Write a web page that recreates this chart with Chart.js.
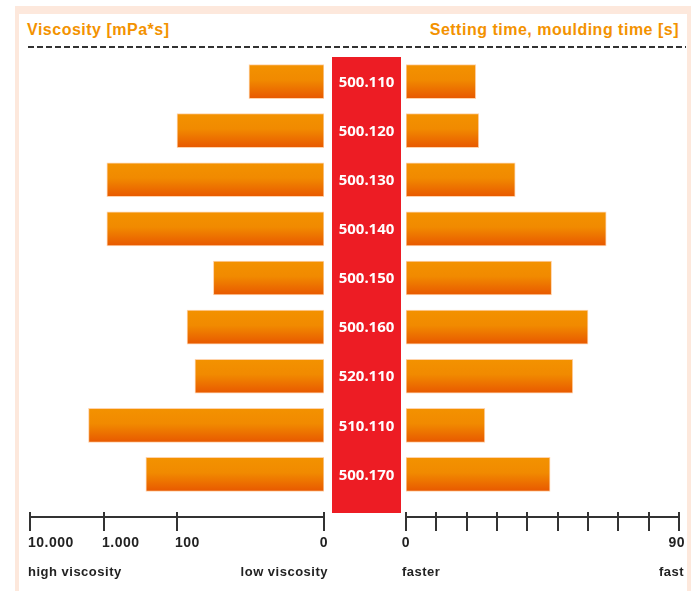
<!DOCTYPE html>
<html>
<head>
<meta charset="utf-8">
<script src="https://cdn.jsdelivr.net/npm/chart.js@4/dist/chart.umd.min.js"></script>
<style>
  body { margin: 0; background: #fff; width: 691px; height: 591px; overflow: hidden; position: relative; font-family: "Liberation Sans", Arial, sans-serif; }
  .frame { position: absolute; left: 15px; top: 6px; width: 668px; height: 600px; border-left: 4px solid #fde8dc; border-right: 4px solid #fde8dc; border-top: 8px solid #fde8dc; }
  .head { position: absolute; top: 21px; font: bold 16px "Liberation Sans", Arial, sans-serif; letter-spacing: 0.5px; color: #f39200; white-space: nowrap; }
  .dash { position: absolute; left: 28px; top: 46px; width: 658px; height: 2px; background: repeating-linear-gradient(to right, #333 0 6px, transparent 6px 9px); }
  canvas { position: absolute; top: 0; }
</style>
</head>
<body>
<div class="frame"></div>
<div class="head" style="left:27px">Viscosity [mPa*s]</div>
<div class="head" style="right:12px">Setting time, moulding time [s]</div>
<div class="dash"></div>
<canvas id="left" width="332" height="591" style="left:0"></canvas>
<canvas id="right" width="359" height="591" style="left:332px"></canvas>
<script>
// data
const products = ['500.110', '500.120', '500.130', '500.140', '500.150', '500.160', '520.110', '510.110', '500.170']
const viscosity = [10.5, 100, 900, 900, 32, 73, 57, 1600, 265]        // mPa*s
const settingTime = [23, 24, 36, 66, 48, 60, 55, 26, 47.5]            // s

const viscTicks = [10000, 1000, 100, 1]
const viscTickLabels = ['10.000', '1.000', '100', '0']
const timeTicks = [0, 10, 20, 30, 40, 50, 60, 70, 80, 90]
const timeTickLabels = ['0', '', '', '', '', '', '', '', '', '90']

const barTop = '#f39200'
const barBottom = '#e85800'
const axisY = 517

const gradientFill = (c) => {
  const chart = c.chart
  if (!chart.chartArea || c.dataIndex == null) return barTop
  const yc = chart.scales.y.getPixelForValue(c.dataIndex)
  const g = chart.ctx.createLinearGradient(0, yc - 17, 0, yc + 17)
  g.addColorStop(0, barTop)
  g.addColorStop(0.45, '#f18a00')
  g.addColorStop(1, barBottom)
  return g
}

// draws the bottom axis with crossing ticks and labels
const axisPlugin = (ticks, labels, aligns, captions) => ({
  id: 'bottomAxis',
  afterDraw(chart) {
    const ctx = chart.ctx
    const x = chart.scales.x
    ctx.save()
    ctx.strokeStyle = '#333'
    ctx.lineWidth = 2
    ctx.beginPath()
    ctx.moveTo(x.getPixelForValue(ticks[0]), axisY)
    ctx.lineTo(x.getPixelForValue(ticks[ticks.length - 1]), axisY)
    ctx.stroke()
    ctx.font = 'bold 14px "Liberation Sans", Arial, sans-serif'
    ctx.letterSpacing = '0.5px'
    ctx.textBaseline = 'middle'
    ctx.fillStyle = '#222'
    ticks.forEach((t, i) => {
      const px = Math.round(x.getPixelForValue(t))
      ctx.beginPath()
      ctx.moveTo(px, axisY - 5)
      ctx.lineTo(px, axisY + 14)
      ctx.stroke()
      if (labels[i]) {
        ctx.textAlign = aligns[i]
        const off = aligns[i] === 'left' ? -2 : aligns[i] === 'right' ? 6 : 0
        ctx.fillText(labels[i], px + off, 543)
      }
    })
    ctx.font = 'bold 13px "Liberation Sans", Arial, sans-serif'
    captions.forEach(cap => {
      ctx.textAlign = cap.align
      ctx.fillText(cap.text, x.getPixelForValue(cap.at) + cap.dx, 572)
    })
    ctx.restore()
  }
})

// red center band with product names
const centerPlugin = {
  id: 'centerBand',
  beforeDatasetsDraw(chart) {
    const ctx = chart.ctx
    ctx.save()
    ctx.fillStyle = '#ed1c24'
    ctx.fillRect(0, 57, 69, 456)
    ctx.restore()
  },
  afterDatasetsDraw(chart) {
    const ctx = chart.ctx
    const y = chart.scales.y
    ctx.save()
    ctx.fillStyle = '#fff'
    ctx.font = 'bold 15px "Noto Sans", "Open Sans", sans-serif'
    ctx.textAlign = 'center'
    ctx.textBaseline = 'middle'
    products.forEach((p, i) => ctx.fillText(p, 34.5, y.getPixelForValue(i) + 1))
    ctx.restore()
  }
}

const baseOptions = (padding) => ({
  responsive: false,
  animation: false,
  indexAxis: 'y',
  layout: { padding },
  plugins: { legend: { display: false }, tooltip: { enabled: false } },
  events: []
})

const leftOpts = baseOptions({ left: 30, right: 8, top: 57, bottom: 92 })
leftOpts.scales = {
  x: { type: 'logarithmic', min: 1, max: 10000, reverse: true, display: false },
  y: { type: 'category', display: false }
}
new Chart(document.getElementById('left'), {
  type: 'bar',
  data: {
    labels: products,
    datasets: [{
      data: viscosity.map(v => [1, v]),
      backgroundColor: gradientFill,
      borderColor: 'rgba(255,200,150,0.8)',
      borderWidth: 1,
      borderSkipped: false,
      barThickness: 34
    }]
  },
  options: leftOpts,
  plugins: [axisPlugin(viscTicks, viscTickLabels, ['left', 'left', 'left', 'center'], [
    { text: 'high viscosity', at: 10000, dx: -2, align: 'left' },
    { text: 'low viscosity', at: 1, dx: 4, align: 'right' }
  ])]
})

const rightOpts = baseOptions({ left: 74, right: 12, top: 57, bottom: 92 })
rightOpts.scales = {
  x: { type: 'linear', min: 0, max: 90, display: false },
  y: { type: 'category', display: false }
}
new Chart(document.getElementById('right'), {
  type: 'bar',
  data: {
    labels: products,
    datasets: [{
      data: settingTime,
      backgroundColor: gradientFill,
      borderColor: 'rgba(255,200,150,0.8)',
      borderWidth: 1,
      borderSkipped: false,
      barThickness: 34
    }]
  },
  options: rightOpts,
  plugins: [centerPlugin, axisPlugin(timeTicks, timeTickLabels,
    ['center', 'center', 'center', 'center', 'center', 'center', 'center', 'center', 'center', 'right'], [
    { text: 'faster', at: 0, dx: -4, align: 'left' },
    { text: 'fast', at: 90, dx: 5, align: 'right' }
  ])]
})
</script>
</body>
</html>
